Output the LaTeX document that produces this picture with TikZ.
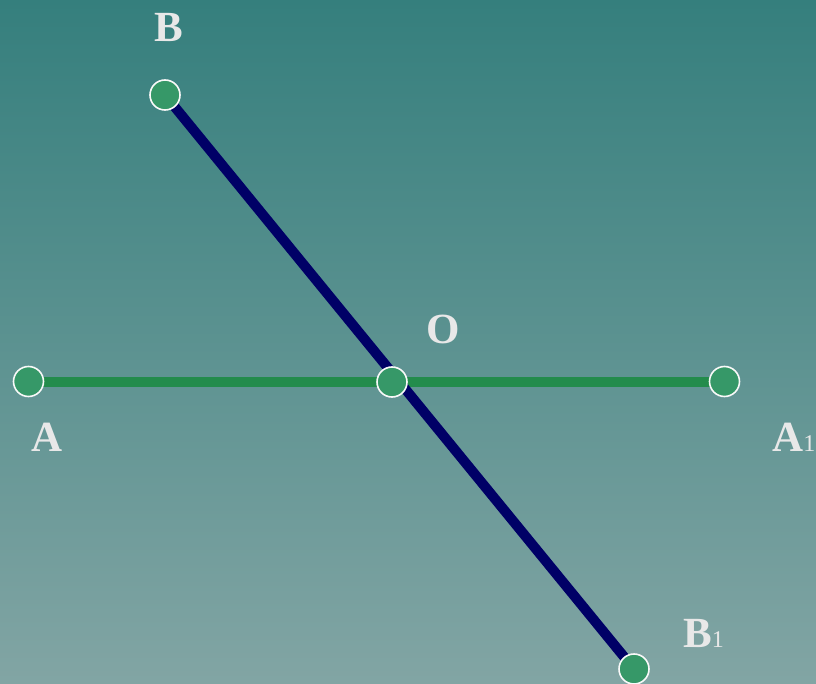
\documentclass[tikz,border=0pt]{standalone}
\usepackage{fontspec}
\setmainfont{Liberation Serif}
\definecolor{bgtop}{HTML}{357F7D}
\definecolor{bgbot}{HTML}{82A5A4}
\definecolor{ptfill}{HTML}{369868}
\definecolor{segA}{HTML}{238C4C}
\definecolor{segB}{HTML}{000066}
\definecolor{lbl}{HTML}{E8E8E8}
\tikzset{
  pt/.style={circle, fill=ptfill, draw=white!95!gray, line width=1.6pt, minimum size=30pt, inner sep=0pt},
  lab/.style={text=lbl, font=\fontsize{43}{45}\selectfont\bfseries, inner sep=0pt},
}
\newcommand{\subone}{{\fontsize{24}{25}\selectfont\mdseries 1}}
\begin{document}
\begin{tikzpicture}[x=1pt,y=-1pt]
\shade[top color=bgtop, bottom color=bgbot] (0,0) rectangle (816,684);
\useasboundingbox (0,0) rectangle (816,684);
\coordinate (Bc) at (165,95);
\coordinate (B1c) at (634,669);
\coordinate (Ac) at (28.5,381.5);
\coordinate (A1c) at (724.5,381.5);
\coordinate (Oc) at (392,382);
\draw[segA, line width=10pt] (Ac) -- (A1c);
\draw[segB, line width=10pt] (Bc) -- (B1c);
\node[pt] (A) at (Ac) {};
\node[pt] (A1) at (A1c) {};
\node[pt] (B) at (Bc) {};
\node[pt] (B1) at (B1c) {};
\node[pt] (O) at (Oc) {};
\node[lab, anchor=base] (lB) at (169,42) {B};
\node[lab, anchor=base] (lO) at (443,344) {O};
\node[lab, anchor=base] (lA) at (47,451) {A};
\node[lab, anchor=base west] (lA1) at (772,451) {A\subone};
\node[lab, anchor=base west] (lB1) at (683,647) {B\subone};
\end{tikzpicture}
\end{document}
